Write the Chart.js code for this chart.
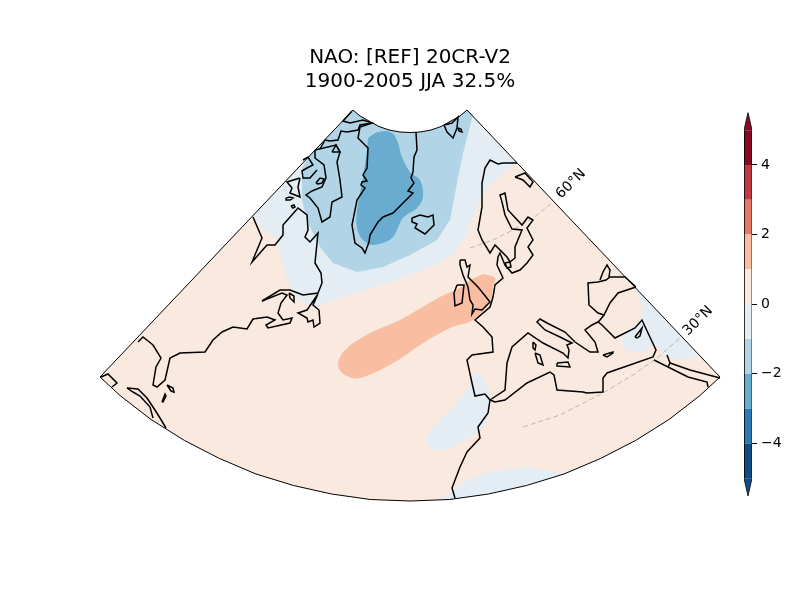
<!DOCTYPE html>
<html>
<head>
<meta charset="utf-8">
<script src="https://cdn.jsdelivr.net/npm/chart.js@4/dist/chart.umd.min.js"></script>
<style>
    body { margin: 0; background: #fff; }
    #page { position: relative; width: 800px; height: 600px; overflow: hidden; }
    #map { position: absolute; left: 0; top: 0; }
    #colorbar { position: absolute; left: 730px; top: 100px; }
</style>
</head>
<body>
<div id="page">
    <canvas id="map" width="800" height="600"></canvas>
    <canvas id="colorbar" width="70" height="410"></canvas>
</div>
<script>
const titleLines = ['NAO: [REF] 20CR-V2', '1900-2005 JJA 32.5%'];

// Colorbar
const levels = [-5, -4, -3, -2, -1, 0, 1, 2, 3, 4, 5];
const levelColors = ['#134b87', '#2f79b5', '#6aacd0', '#b1d5e7', '#e3edf3', '#fae9df', '#f9bda1', '#e27a62', '#c13b3f', '#840a25'];
const colorbarTicks = [-4, -2, 0, 2, 4];
const underTip = [[0, -5], [0.5, -5.51], [1, -5]];
const overTip = [[0, 5], [0.5, 5.51], [1, 5]];

// Map frame, in projected plot units
const topArc = [[353, 110], [360, 116], [369, 121], [379, 126.5], [389, 130], [400, 132], [410, 132.5], [420, 132], [431, 130], [441, 126.5], [451, 121], [460, 116], [467, 110]];
const bottomArc = [[720, 377], [700, 395.5], [669, 419.5], [635.5, 440.5], [600.5, 458.5], [564, 474], [526.5, 485.5], [488.5, 494], [449.5, 499.5], [410, 501], [370.5, 499.5], [331.5, 494], [293.5, 485.5], [256, 474], [219.5, 458.5], [184.5, 440.5], [151, 419.5], [120, 395.5], [100, 377]];

// Anomaly regions
const paleNorth = [[253, 216], [262, 228], [277, 240], [283, 267], [290, 287], [298, 300], [317, 307], [340, 298], [365, 290], [390, 282], [420, 271], [440, 263], [457, 250], [466, 235], [473, 217], [483, 193], [495, 180], [507, 170], [515, 162], [467, 110], [460, 116], [451, 121], [441, 126.5], [431, 130], [420, 132], [410, 132.5], [400, 132], [389, 130], [379, 126.5], [369, 121], [360, 116], [353, 110]];
const blueNorth = [[310, 155], [302, 168], [302, 200], [308, 223], [320, 247], [333, 263], [357, 272], [383, 267], [410, 255], [437, 240], [450, 220], [457, 183], [463, 153], [473, 115], [467, 110], [460, 116], [451, 121], [441, 126.5], [431, 130], [420, 132], [410, 132.5], [400, 132], [389, 130], [379, 126.5], [369, 121], [360, 116], [353, 110]];
const deepGreenland = [[368, 138], [378, 132], [392, 133], [398, 143], [402, 157], [410, 172], [420, 180], [423, 197], [417, 208], [403, 218], [392, 238], [373, 245], [363, 240], [357, 228], [357, 210], [363, 177], [367, 150]];
const orangeNorthSea = [[483, 274], [495, 278], [493, 287], [490, 302], [473, 320], [450, 328], [420, 345], [395, 362], [360, 378], [345, 375], [338, 365], [345, 350], [370, 333], [400, 320], [440, 297], [460, 288], [470, 280]];
const paleLevant = [[637, 290], [641, 307], [640, 320], [627, 332], [622, 340], [627, 350], [640, 352], [655, 345], [668, 358], [683, 360], [699, 356]];
const paleGibraltar = [[475, 373], [483, 377], [490, 398], [487, 420], [477, 432], [450, 448], [435, 450], [426, 442], [433, 427], [453, 407], [467, 390], [472, 377]];
const paleSahara = [[443, 498], [452, 492], [463, 482], [487, 472], [527, 467], [543, 470], [564, 474], [526.5, 485.5], [488.5, 494], [449.5, 499.5]];

// Graticule
const lat60 = [[470, 248], [493, 240], [513, 230], [533, 218], [552, 203]];
const lat30 = [[523, 427], [560, 415], [603, 393], [633, 375], [657, 358], [680, 338]];
const latLabels = ['60°N', '30°N'];
const latLabelX = [571, 698];
const latLabelY = [184, 321];

// Coastlines
const greenland = [[416, 132], [417, 150], [414, 157], [413, 172], [411, 178], [414, 183], [408, 191], [413, 193], [393, 213], [383, 217], [378, 222], [370, 235], [369, 242], [365, 253], [362, 248], [355, 243], [352, 225], [357, 200], [365, 188], [361, 185], [362, 182], [367, 181], [363, 175], [367, 168], [368, 148], [358, 138], [360, 127], [372, 123]];
const ellesmere = [[352, 111], [343, 121], [350, 123], [363, 120], [372, 123], [360, 125], [358, 130], [347, 132], [341, 131], [338, 140], [330, 141], [325, 140], [320, 149]];
const baffin = [[315, 150], [336, 145], [340, 152], [337, 162], [340, 180], [342, 197], [332, 202], [330, 217], [322, 222], [318, 208], [310, 198], [306, 195], [312, 191], [322, 187], [326, 178], [324, 165], [315, 158], [315, 150]];
const bylot = [[332, 152], [336, 145], [340, 152], [332, 152]];
const melville = [[303, 160], [308, 157], [313, 165], [307, 168], [302, 171], [303, 178], [310, 178], [317, 170]];
const southampton = [[300, 178], [287, 182], [292, 188], [290, 193], [300, 197], [298, 187], [300, 178]];
const isleA = [[286, 198], [290, 197], [293, 198], [290, 200], [286, 200], [286, 198]];
const isleB = [[291, 206], [294, 205], [295, 207], [293, 208], [291, 206]];
const isleC = [[316, 183], [320, 178], [324, 179], [322, 183], [318, 184], [316, 183]];
const labrador = [[253, 217], [262, 238], [252, 262], [267, 245], [275, 245], [283, 235], [283, 225], [298, 208], [307, 215], [308, 230], [305, 237], [310, 242], [318, 233], [315, 263], [321, 273], [322, 283], [318, 293], [303, 295], [290, 290], [280, 290], [262, 301]];
const eastCoast = [[262, 301], [282, 293], [287, 295], [281, 303], [278, 313], [283, 320], [292, 318], [290, 323], [268, 328], [266, 325], [275, 320], [267, 317], [253, 319], [247, 329], [233, 327], [222, 332], [213, 340], [205, 352], [180, 353], [170, 358], [165, 380], [157, 387], [153, 385], [156, 367], [161, 358], [153, 345], [143, 337], [138, 342]];
const newfoundland = [[318, 294], [307, 310], [298, 313], [307, 318], [308, 322], [313, 320], [314, 327], [320, 323], [319, 310], [313, 305], [318, 294]];
const anticosti = [[289, 293], [294, 296], [294, 302], [290, 298], [289, 293]];
const caribbeanOuter = [[127, 388], [138, 389], [147, 398], [155, 410], [160, 418], [166, 428]];
const caribbeanInner = [[127, 388], [133, 392], [140, 396], [150, 407], [153, 418]];
const bahamasA = [[167, 385], [173, 388], [174, 392], [171, 391], [167, 385]];
const bahamasB = [[162, 402], [165, 394], [166, 396], [163, 402], [162, 402]];
const gulfCorner = [[101, 377], [108, 374], [117, 383], [112, 387]];
const iceland = [[412, 218], [420, 215], [428, 217], [433, 215], [434, 225], [425, 234], [415, 228], [417, 224], [412, 222], [412, 218]];
const svalbard = [[444, 125], [452, 123], [458, 117], [457, 128], [453, 138], [447, 132], [444, 125]];
const svalbardIsle = [[458, 128], [461, 129], [462, 132], [459, 131], [458, 128]];
const eurafrica = [[517, 163], [503, 163], [498, 164], [490, 160], [485, 168], [482, 183], [482, 207], [478, 230], [482, 240], [490, 253], [495, 245], [507, 257], [510, 262], [515, 258], [515, 247], [522, 230], [512, 229], [505, 215], [502, 202], [500, 195], [505, 193], [508, 210], [522, 225], [528, 217], [533, 220], [527, 228], [533, 240], [528, 247], [533, 255], [527, 263], [520, 270], [512, 273], [505, 265], [500, 253], [498, 257], [497, 265], [503, 278], [495, 285], [493, 297], [490, 307], [475, 320], [483, 327], [492, 337], [493, 352], [472, 355], [467, 360], [472, 383], [475, 396], [485, 394], [490, 400], [488, 413], [478, 427], [480, 438], [467, 452], [460, 467], [452, 488], [455, 498]];
const zealand = [[505, 263], [510, 262], [511, 267], [507, 268], [505, 263]];
const kola = [[515, 177], [525, 173], [533, 182], [530, 187], [523, 180], [515, 177]];
const britain = [[460, 260], [465, 260], [467, 267], [470, 265], [468, 277], [478, 287], [490, 302], [482, 310], [475, 309], [472, 314], [473, 305], [470, 300], [468, 287], [463, 275], [460, 265], [460, 260]];
const ireland = [[457, 285], [464, 285], [462, 303], [455, 306], [454, 293], [457, 285]];
const mediterranean = [[490, 400], [505, 390], [507, 363], [512, 347], [528, 333], [543, 343], [563, 353], [568, 358], [569, 350], [567, 345], [572, 343], [560, 337], [545, 330], [537, 322], [540, 319], [547, 323], [565, 332], [575, 342], [590, 352], [598, 352], [595, 342], [585, 330], [592, 325], [598, 322], [602, 325], [615, 338], [635, 328], [642, 320], [648, 333], [656, 350], [653, 357], [607, 373], [603, 378], [603, 392], [587, 393], [583, 392], [557, 390], [554, 375], [550, 372], [527, 383], [505, 400], [495, 402], [490, 400]];
const blackSea = [[636, 287], [618, 293], [610, 303], [604, 315], [598, 313], [589, 305], [588, 283], [598, 282], [606, 280], [610, 277], [625, 277], [636, 287]];
const azov = [[600, 280], [603, 272], [607, 265], [610, 270], [609, 277]];
const bosphorus = [[604, 315], [600, 320], [598, 322]];
const corsica = [[533, 342], [536, 345], [535, 350], [533, 348], [533, 342]];
const sardinia = [[535, 353], [540, 355], [543, 365], [538, 363], [535, 353]];
const sicily = [[557, 363], [568, 362], [570, 367], [557, 366], [557, 363]];
const crete = [[603, 355], [613, 352], [613, 353], [607, 357], [603, 355]];
const cyprus = [[635, 337], [642, 328], [640, 336], [637, 338], [635, 337]];
const sinai = [[654, 360], [668, 367], [670, 363], [667, 355]];
const redSeaNorth = [[670, 363], [690, 370], [720, 378]];
const redSeaSouth = [[668, 367], [688, 377], [707, 382], [708, 387]];

const coastlines = [greenland, ellesmere, baffin, bylot, melville, southampton, isleA, isleB, isleC, labrador, eastCoast, newfoundland, anticosti, caribbeanOuter, caribbeanInner, bahamasA, bahamasB, gulfCorner, iceland, svalbard, svalbardIsle, eurafrica, zealand, kola, britain, ireland, mediterranean, blackSea, azov, bosphorus, corsica, sardinia, sicily, crete, cyprus, sinai, redSeaNorth, redSeaSouth];

const toPoints = (pairs) => pairs.map(([x, y]) => ({ x, y }));

const region = (pairs, color, tension = 0) => ({
    data: toPoints(pairs),
    showLine: true,
    fill: 'shape',
    backgroundColor: color,
    borderWidth: 0,
    pointRadius: 0,
    tension
});

const stroke = (pairs, width) => ({
    data: toPoints(pairs),
    showLine: true,
    fill: false,
    borderColor: '#000',
    borderWidth: width,
    pointRadius: 0
});

const frame = [...topArc, ...bottomArc, topArc[0]];

const latDash = (pairs) => ({
    data: toPoints(pairs),
    showLine: true,
    fill: false,
    borderColor: 'rgba(128, 128, 128, 0.5)',
    borderWidth: 1,
    borderDash: [5, 3],
    pointRadius: 0
});

// Painted bottom to top, the order values below put the first one at the back
const mapLayers = [
    region(frame, levelColors[5]),
    region(paleNorth, levelColors[4]),
    region(blueNorth, levelColors[3]),
    region(deepGreenland, levelColors[2], 0.35),
    region(orangeNorthSea, levelColors[6], 0.35),
    region(paleLevant, levelColors[4], 0.25),
    region(paleGibraltar, levelColors[4], 0.25),
    region(paleSahara, levelColors[4]),
    latDash(lat60),
    latDash(lat30),
    ...coastlines.map(c => stroke(c, 1.5)),
    stroke(frame, 1)
];
mapLayers.forEach((layer, i) => { layer.order = mapLayers.length - i; });

const latLabelPlugin = {
    id: 'latLabels',
    afterDraw(chart) {
        const { ctx, scales } = chart;
        ctx.save();
        ctx.font = '14px "DejaVu Sans"';
        ctx.fillStyle = '#000';
        ctx.textAlign = 'center';
        ctx.textBaseline = 'middle';
        latLabels.forEach((label, i) => {
            ctx.save();
            ctx.translate(scales.x.getPixelForValue(latLabelX[i]), scales.y.getPixelForValue(latLabelY[i]));
            ctx.rotate(-Math.PI / 4);
            ctx.fillText(label, 0, 0);
            ctx.restore();
        });
        ctx.restore();
    }
};

new Chart(document.getElementById('map'), {
    type: 'scatter',
    data: { datasets: mapLayers },
    options: {
        responsive: false,
        animation: false,
        devicePixelRatio: 1,
        layout: { padding: { left: 20 } },
        plugins: {
            legend: { display: false },
            tooltip: { enabled: false },
            title: {
                display: true,
                text: titleLines,
                fullSize: false,
                color: '#000',
                font: { family: '"DejaVu Sans"', size: 20, weight: 'normal', lineHeight: 1.2 },
                padding: { top: 46, bottom: 0 }
            }
        },
        scales: {
            x: { display: false, min: 20, max: 800 },
            y: { display: false, min: 94, max: 600, reverse: true }
        }
    },
    plugins: [latLabelPlugin]
});

const cells = levelColors.map((color, i) => region(
    [[0, levels[i]], [1, levels[i]], [1, levels[i + 1]], [0, levels[i + 1]]], color));
const barOutline = [...underTip, [1, 5], ...overTip.slice().reverse(), [0, -5]];

new Chart(document.getElementById('colorbar'), {
    type: 'scatter',
    data: {
        datasets: [
            stroke(barOutline, 0.8),
            region(underTip, levelColors[0]),
            region(overTip, levelColors[9]),
            ...cells
        ]
    },
    options: {
        responsive: false,
        animation: false,
        devicePixelRatio: 1,
        layout: { padding: { left: 14, top: 9, bottom: 14 } },
        plugins: {
            legend: { display: false },
            tooltip: { enabled: false },
            title: { display: false }
        },
        scales: {
            x: { display: false, min: 0, max: 1 },
            y: {
                position: 'right',
                min: -5.51,
                max: 5.51,
                afterFit: (scale) => { scale.width = 48; },
                afterBuildTicks: (scale) => { scale.ticks = colorbarTicks.map(value => ({ value })); },
                border: { display: false },
                grid: { drawOnChartArea: false, drawTicks: true, tickLength: 5, tickColor: '#000', tickWidth: 1 },
                ticks: {
                    autoSkip: false,
                    color: '#000',
                    padding: 4,
                    font: { family: '"DejaVu Sans"', size: 14 },
                    callback: (value) => String(value).replace('-', '\u2212')
                }
            }
        }
    }
});
</script>
</body>
</html>
